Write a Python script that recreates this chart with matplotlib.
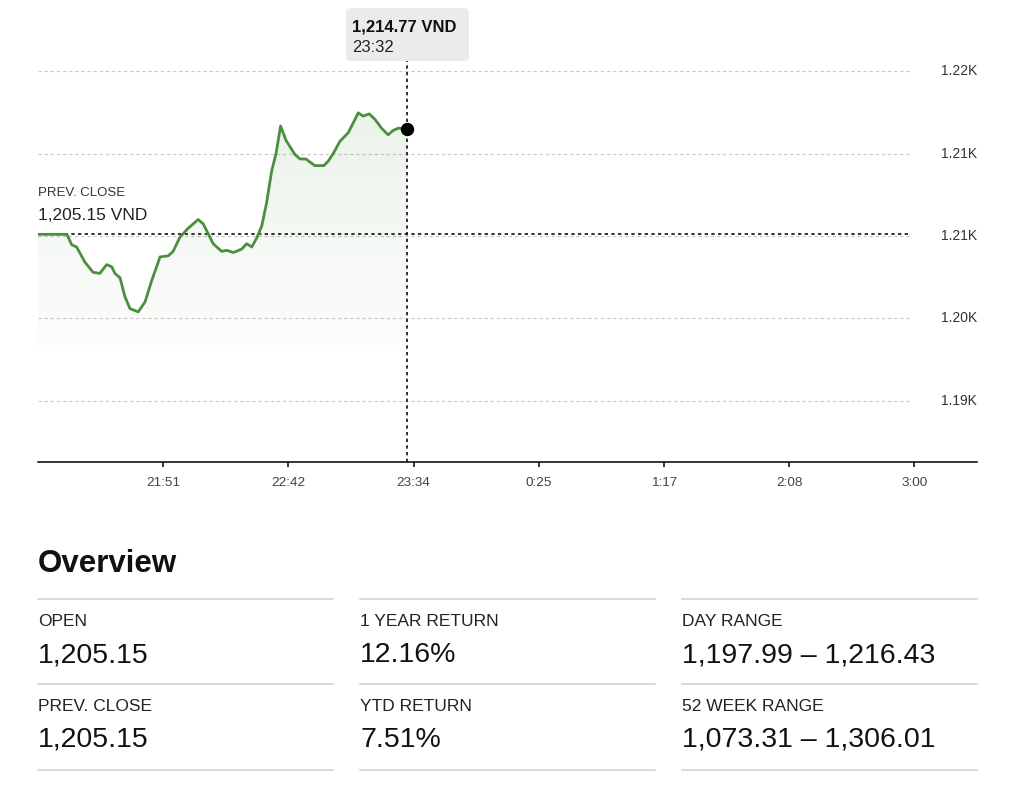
import numpy as np
import matplotlib
matplotlib.use("Agg")
import matplotlib.pyplot as plt
from matplotlib.patches import FancyBboxPatch, Polygon
from matplotlib.lines import Line2D
from matplotlib.colors import to_rgb

plt.rcParams['font.family'] = ['Liberation Sans', 'DejaVu Sans']

# intraday data: minutes after 21:00, price in VND
minutes = [0, 11.9, 13.9, 15.9, 19.4, 22.7, 25.5, 28.3, 30.4, 31.7, 33.8, 35.8,
           37.9, 41.3, 44.1, 46.8, 50.3, 53.7, 55.7, 58.5, 61.9, 66.0, 68.1,
           72.2, 75.7, 77.8, 80.5, 83.9, 86.0, 88.1, 90.1, 92.2, 94.2, 96.3,
           98.1, 100.0, 102.2, 105.9, 108.0, 110.4, 114.1, 117.8, 119.6, 121.7,
           124.4, 127.9, 132.0, 134.0, 136.5, 138.9, 141.6, 144.3, 146.4, 148.5,
           152.2]
prices = [1205.15, 1205.15, 1204.2, 1204.0, 1202.6, 1201.7, 1201.6, 1202.4,
          1202.2, 1201.6, 1201.2, 1199.5, 1198.4, 1198.1, 1199.0, 1200.9,
          1203.1, 1203.2, 1203.6, 1204.9, 1205.7, 1206.5, 1206.1, 1204.3,
          1203.6, 1203.7, 1203.5, 1203.8, 1204.3, 1204.0, 1204.8, 1205.9,
          1208.0, 1210.9, 1212.5, 1215.0, 1213.7, 1212.4, 1212.0, 1212.0,
          1211.4, 1211.4, 1211.8, 1212.5, 1213.6, 1214.4, 1216.2, 1215.9,
          1216.1, 1215.6, 1214.8, 1214.2, 1214.6, 1214.8, 1214.77]
prev_close = 1205.15
hover_price = "1,214.77 VND"
hover_time = "23:32"

y_ticks = [1220, 1212.5, 1205, 1197.5, 1190]
y_labels = ["1.22K", "1.21K", "1.21K", "1.20K", "1.19K"]
x_labels = ["21:51", "22:42", "23:34", "0:25", "1:17", "2:08", "3:00"]

overview_labels = [["OPEN", "PREV. CLOSE"],
                   ["1 YEAR RETURN", "YTD RETURN"],
                   ["DAY RANGE", "52 WEEK RANGE"]]
overview_values = [["1,205.15", "1,205.15"],
                   ["12.16%", "7.51%"],
                   ["1,197.99 \u2013 1,216.43", "1,073.31 \u2013 1,306.01"]]

W, H = 1020, 790
GREEN = '#4b8f3e'


def fx(px):
    return px / W


def fy(py):
    return 1 - py / H


fig = plt.figure(figsize=(W / 100, H / 100), dpi=100)
ax = fig.add_axes([fx(38), fy(462), (977 - 38) / W, (462 - 40) / H])
x_max = 387.0
ax.set_xlim(0, x_max)
ax.set_ylim(1184.45, 1222.82)
grid_end = x_max * (910 - 38) / (977 - 38)

# grid + right labels
ax.hlines(y_ticks, 0, grid_end, colors='#c8c8c8', linewidth=0.8,
          linestyles=(0, (3, 2.5)), zorder=1)
for yv, lab in zip(y_ticks, y_labels):
    ax.text(x_max, yv, lab, ha='right', va='center', fontsize=10,
            color='#333333')

# gradient fill under the line
fill_bottom = 1194.4
top = max(prices)
grad = np.zeros((200, 1, 4))
grad[:, 0, :3] = to_rgb(GREEN)
grad[:, 0, 3] = np.linspace(0.012, 0.11, 200)
im = ax.imshow(grad, extent=(0, minutes[-1], fill_bottom, top), origin='lower',
               aspect='auto', zorder=2)
poly = Polygon(list(zip(minutes, prices)) + [(minutes[-1], fill_bottom), (0, fill_bottom)],
               closed=True, transform=ax.transData, facecolor='none', edgecolor='none')
ax.add_patch(poly)
im.set_clip_path(poly)

# previous close line
ax.hlines(prev_close, 0, grid_end, colors='#111111', linewidth=1.2,
          linestyles=(0, (2, 2)), zorder=3)
ax.text(0, prev_close + 3.8, "PREV. CLOSE", fontsize=9.5, color='#333333',
        ha='left', va='center')
ax.text(0, prev_close + 1.75, "1,205.15 VND", fontsize=12.5, color='#222222',
        ha='left', va='center')

ax.plot(minutes, prices, color=GREEN, linewidth=2, zorder=4,
        solid_joinstyle='round')
ax.plot([minutes[-1]], [prices[-1]], 'o', color='black', markersize=8.6, zorder=6)

# hover line
ax.plot([minutes[-1], minutes[-1]], [1184.45, 1222.82 + 20 / 11], color='#111111',
        linewidth=1.2, linestyle=(0, (2, 2)), zorder=5, clip_on=False)

# axes styling
for s in ['top', 'left', 'right']:
    ax.spines[s].set_visible(False)
ax.spines['bottom'].set_linewidth(1.1)
ax.set_yticks([])
step = x_max * 125.2 / 939
ax.set_xticks([step * (i + 1) for i in range(len(x_labels))])
ax.set_xticklabels(x_labels)
ax.tick_params(axis='x', length=3.6, width=1.1, pad=7, labelsize=9.7,
               labelcolor='#444444')

# tooltip
box = FancyBboxPatch((fx(346), fy(61)), (469 - 346) / W, (61 - 8) / H,
                     boxstyle='round,pad=0,rounding_size=0.005',
                     transform=fig.transFigure, facecolor='#ebebeb',
                     edgecolor='none', zorder=10)
fig.add_artist(box)
fig.text(fx(352), fy(27), hover_price, fontsize=12, fontweight='bold',
         color='#111111', va='center', ha='left', zorder=11)
fig.text(fx(352), fy(48), hover_time, fontsize=12, color='#222222',
         va='center', ha='left', zorder=11)

# overview section
fig.text(fx(38), fy(564), "Overview", fontsize=22.5, fontweight='bold',
         color='#111111', va='center', ha='left')
col_x = [38, 360, 682]
col_w = 295
for c in range(3):
    for yl in [599, 684, 770]:
        fig.add_artist(Line2D([fx(col_x[c]), fx(col_x[c] + col_w)], [fy(yl), fy(yl)],
                              transform=fig.transFigure, color='#cfcfcf',
                              linewidth=1.1))
    for r in range(2):
        base = 85 * r
        fig.text(fx(col_x[c]), fy(621.5 + base), overview_labels[c][r],
                 fontsize=12.5, color='#222222', va='center', ha='left')
        fig.text(fx(col_x[c]), fy(655 + base), overview_values[c][r],
                 fontsize=20.5, color='#111111', va='center', ha='left')

fig.savefig('out.png', dpi=100)
